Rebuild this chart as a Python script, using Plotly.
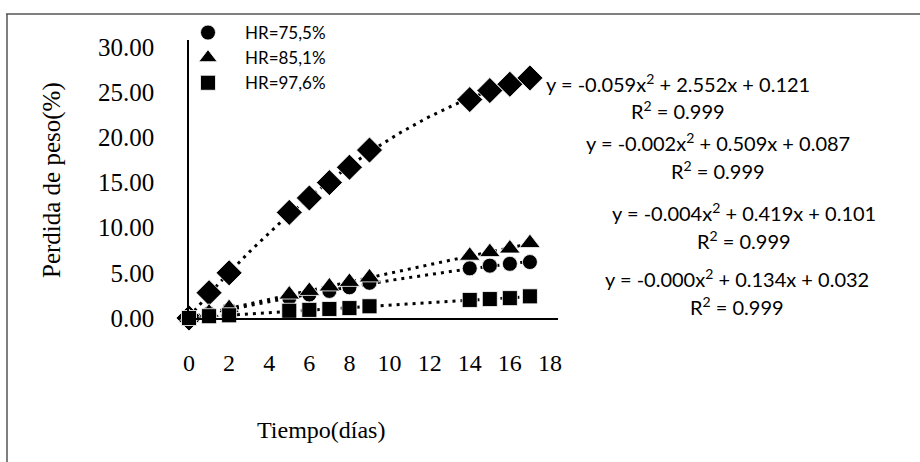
import numpy as np
import plotly.graph_objects as go

# ---- data ----
dias = [0, 1, 2, 5, 6, 7, 8, 9, 14, 15, 16, 17]
perdida_rombo = [0.0, 2.8, 5.0, 11.7, 13.3, 15.0, 16.7, 18.6, 24.2, 25.2, 25.9, 26.6]
perdida_hr755 = [0.0, 0.5, 0.9, 2.2, 2.6, 3.0, 3.4, 3.9, 5.5, 5.8, 6.0, 6.2]
perdida_hr851 = [0.0, 0.6, 1.1, 2.6, 3.0, 3.5, 4.0, 4.5, 6.9, 7.3, 7.7, 8.3]
perdida_hr976 = [0.0, 0.2, 0.3, 0.8, 0.9, 1.0, 1.1, 1.3, 2.0, 2.1, 2.2, 2.4]

ecuaciones = [
    "y = -0.059x<sup>2</sup> + 2.552x + 0.121",
    "y = -0.002x<sup>2</sup> + 0.509x + 0.087",
    "y = -0.004x<sup>2</sup> + 0.419x + 0.101",
    "y = -0.000x<sup>2</sup> + 0.134x + 0.032",
]
r2_text = "R<sup>2</sup> = 0.999"
x_ticks = [0, 2, 4, 6, 8, 10, 12, 14, 16, 18]
y_ticks = [0, 5, 10, 15, 20, 25, 30]

# ---- layout geometry (pixels) ----
W, H = 920, 462
L, R, T, B = 189, 558, 40, 318


def px(xp):
    return (xp - L) / (R - L)


def py(yp):
    return (B - yp) / (B - T)


fig = go.Figure()

series = [
    (perdida_rombo, "diamond", 20, None),
    (perdida_hr755, "circle", 15, "HR=75,5%"),
    (perdida_hr851, "triangle-up", 18, "HR=85,1%"),
    (perdida_hr976, "square", 15, "HR=97,6%"),
]

xs = np.array(dias, dtype=float)
xfit = np.linspace(0, 17, 120)
for vals, sym, size, name in series:
    c = np.polyfit(xs, np.array(vals), 2)
    fig.add_trace(go.Scatter(
        x=xfit, y=np.polyval(c, xfit), mode="lines",
        line=dict(color="black", width=3, dash="3px,5px"),
        showlegend=False, hoverinfo="skip"))

for vals, sym, size, name in series:
    fig.add_trace(go.Scatter(
        x=dias, y=vals, mode="markers",
        marker=dict(symbol=sym, size=size, color="black",
                    line=dict(color="white", width=0.8)),
        name=name if name else "", showlegend=name is not None,
        cliponaxis=False))

ann = []
eq_font = dict(family="Lato", size=20, color="black")
eq_pos = [(678, 83, 110), (718, 142, 170), (744, 212, 240), (737, 278, 306)]
for eq, (cx, ey, ry) in zip(ecuaciones, eq_pos):
    ann.append(dict(x=px(cx), y=py(ey), xref="paper", yref="paper", text=eq,
                    showarrow=False, font=eq_font,
                    xanchor="center", yanchor="middle"))
    ann.append(dict(x=px(cx), y=py(ry), xref="paper", yref="paper", text=r2_text,
                    showarrow=False, font=eq_font,
                    xanchor="center", yanchor="middle"))

ann.append(dict(x=px(52), y=py(180), xref="paper", yref="paper",
                text="Perdida de peso(%)", textangle=-90, showarrow=False,
                font=dict(family="Liberation Serif", size=25, color="black"),
                xanchor="center", yanchor="middle"))
ann.append(dict(x=px(321), y=py(430), xref="paper", yref="paper",
                text="Tiempo(días)", showarrow=False,
                font=dict(family="Liberation Serif", size=24, color="black"),
                xanchor="center", yanchor="middle"))

shapes = [
    dict(type="line", xref="paper", yref="paper", x0=px(6), x1=px(920), y0=py(14), y1=py(14),
         line=dict(color="#555555", width=1.5)),
    dict(type="line", xref="paper", yref="paper", x0=px(7), x1=px(7), y0=py(14), y1=py(462),
         line=dict(color="#555555", width=1.5)),
]

fig.update_layout(
    width=W, height=H,
    margin=dict(l=L, r=W - R, t=T, b=H - B),
    paper_bgcolor="white", plot_bgcolor="white",
    showlegend=True,
    legend=dict(x=px(171), y=py(15), xanchor="left", yanchor="top",
                font=dict(family="Lato", size=17, color="black"),
                bgcolor="rgba(0,0,0,0)", itemsizing="trace",
                itemwidth=64, tracegroupgap=0),
    xaxis=dict(range=[0, 18.4], tickvals=x_ticks, showgrid=False, zeroline=False,
               showline=True, linecolor="black", linewidth=1.5, ticks="",
               ticklabelstandoff=22,
               tickfont=dict(family="Liberation Serif", size=24, color="black")),
    yaxis=dict(range=[0, 30.8], tickvals=y_ticks, tickformat=".2f", showgrid=False,
               zeroline=False, showline=True, linecolor="black", linewidth=1.5,
               ticks="", ticklabelstandoff=28,
               tickfont=dict(family="Liberation Serif", size=25, color="black")),
    annotations=ann, shapes=shapes,
)

fig.write_html("out.html")
